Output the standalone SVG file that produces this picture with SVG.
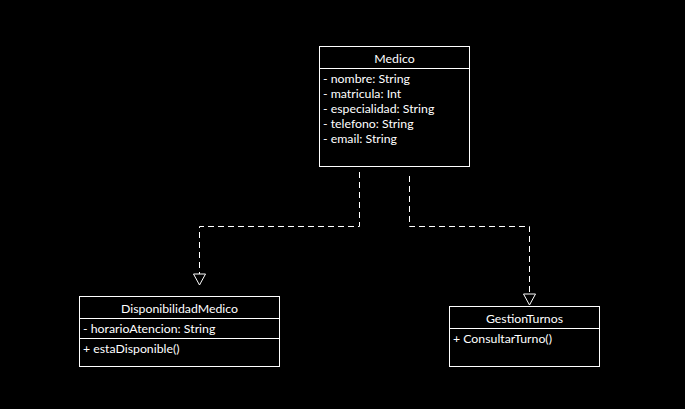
<svg xmlns="http://www.w3.org/2000/svg" width="685" height="409" viewBox="0 0 685 409">
<style>
.box{fill:#000;stroke:#fff;stroke-width:1}
.sep{stroke:#fff;stroke-width:1}
text{font-family:Lato,"Open Sans","DejaVu Sans",sans-serif;font-size:12.3px;fill:#fff}
.t{text-anchor:middle}
.c{fill:none;stroke:#fff;stroke-width:1;stroke-dasharray:6,4}
.h{fill:#000;stroke:#fff;stroke-width:1}
</style>
<rect width="685" height="409" fill="#000"/>
<g id="connectors">
<polyline class="c" points="359.5,172 359.5,226.5 199.5,226.5 199.5,274"/>
<polygon class="h" points="193.5,274 205.5,274 199.5,285"/>
<polyline class="c" points="409.5,176 409.5,226.5 529.5,226.5 529.5,294"/>
<polygon class="h" points="523.5,294 535.5,294 529.5,305"/>
</g>
<g id="Medico">
<rect class="box" x="319.5" y="46.5" width="150" height="120"/>
<line class="sep" x1="319.5" y1="68.5" x2="469.5" y2="68.5"/>
<text class="t" x="394.5" y="63">Medico</text>
<text x="323" y="83">- nombre: String</text>
<text x="323" y="98">- matricula: Int</text>
<text x="323" y="113">- especialidad: String</text>
<text x="323" y="128">- telefono: String</text>
<text x="323" y="143">- email: String</text>
</g>
<g id="DisponibilidadMedico">
<rect class="box" x="79.5" y="296.5" width="200" height="70"/>
<line class="sep" x1="79.5" y1="318.5" x2="279.5" y2="318.5"/>
<line class="sep" x1="79.5" y1="338.5" x2="279.5" y2="338.5"/>
<text class="t" x="179.5" y="313">DisponibilidadMedico</text>
<text x="83" y="333">- horarioAtencion: String</text>
<text x="83" y="353">+ estaDisponible()</text>
</g>
<g id="GestionTurnos">
<rect class="box" x="449.5" y="306.5" width="150" height="60"/>
<line class="sep" x1="449.5" y1="328.5" x2="599.5" y2="328.5"/>
<text class="t" x="524.5" y="323">GestionTurnos</text>
<text x="453" y="343">+ ConsultarTurno()</text>
</g>
</svg>
